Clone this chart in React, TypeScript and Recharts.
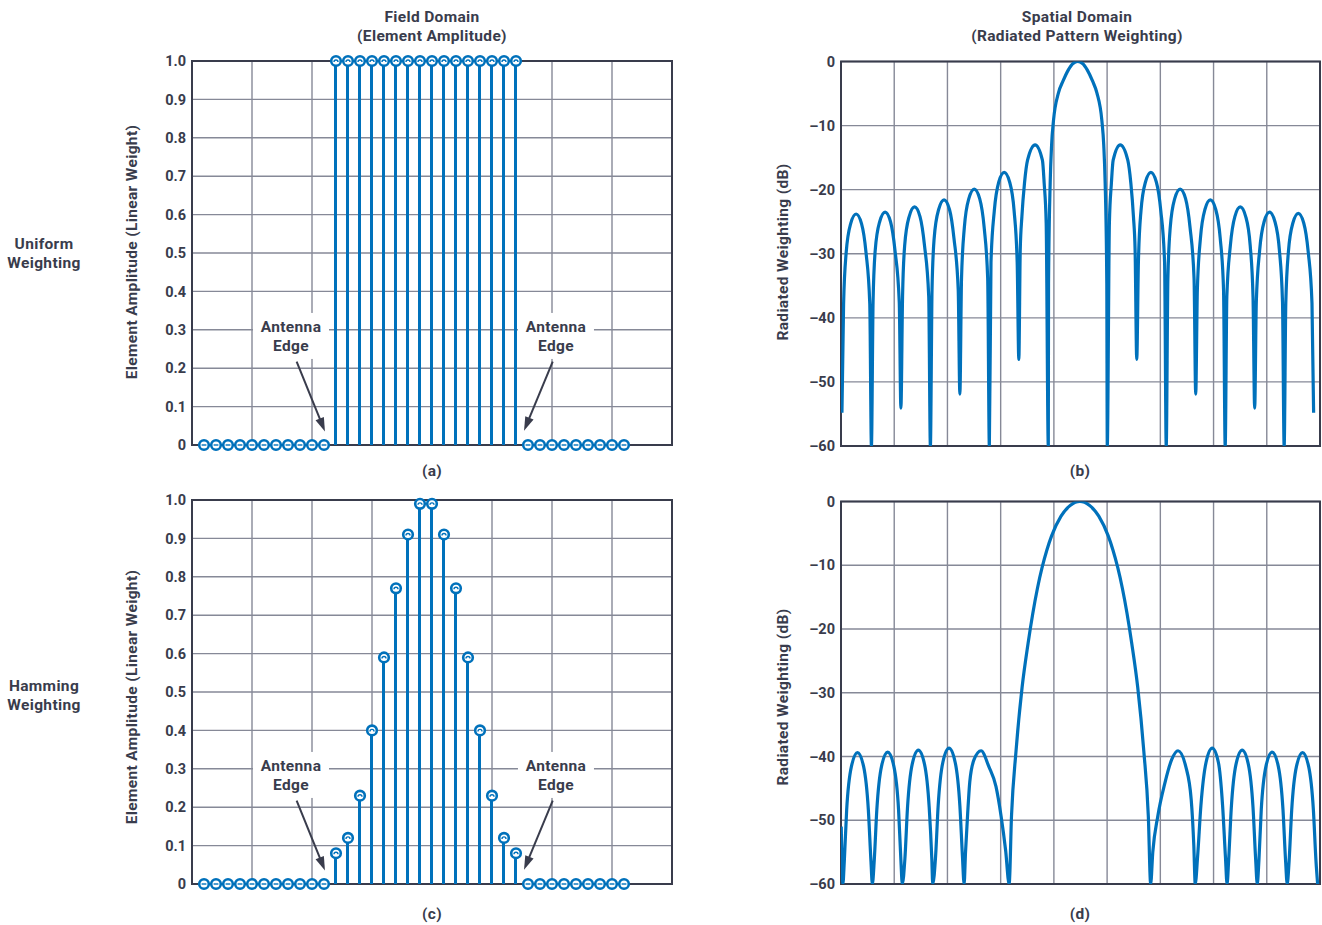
import React from 'react';
import {
  ComposedChart,
  LineChart,
  Line,
  Bar,
  Scatter,
  XAxis,
  YAxis,
  CartesianGrid,
  ReferenceArea,
  ReferenceLine,
  ReferenceDot,
} from 'recharts';

const BLUE = '#0071bb';
const INK = '#393c4c';
const GRID = '#868997';
const FONT = 'Roboto, "Open Sans", sans-serif';

// element positions across the aperture (zero padded on both sides)
const elementIndex = [
  0, 1, 2, 3, 4, 5, 6, 7, 8, 9, 10, 11, 12, 13, 14, 15, 16, 17,
  18, 19, 20, 21, 22, 23, 24, 25, 26, 27, 28, 29, 30, 31, 32, 33, 34, 35,
];

const uniformAmp = [
  0, 0, 0, 0, 0, 0, 0, 0, 0, 0, 0,
  1, 1, 1, 1, 1, 1, 1, 1, 1, 1, 1, 1, 1, 1, 1, 1,
  0, 0, 0, 0, 0, 0, 0, 0, 0,
];

const hammingAmp = [
  0, 0, 0, 0, 0, 0, 0, 0, 0, 0, 0,
  0.08, 0.12, 0.23, 0.4, 0.59, 0.77, 0.91, 0.99, 0.99, 0.91, 0.77, 0.59, 0.4, 0.23, 0.12, 0.08,
  0, 0, 0, 0, 0, 0, 0, 0, 0,
];

const ampTicks = [0, 0.1, 0.2, 0.3, 0.4, 0.5, 0.6, 0.7, 0.8, 0.9, 1];
const dbTicks = [0, -10, -20, -30, -40, -50, -60];
const elementGrid = [-1, 4, 9, 14, 19, 24, 29, 34, 39];

// radiated pattern, [sin(theta), dB]
const uniformPattern: [number, number][] = [
  [-1.0, -54.8], [-0.993, -37.8], [-0.982, -29.8], [-0.963, -25.3], [-0.94, -23.8], [-0.917, -25.3], [-0.898, -29.8], [-0.882, -37.8],
  [-0.875, -60], [-0.868, -37.5], [-0.859, -29.5], [-0.84, -25.0], [-0.817, -23.5], [-0.794, -25.0], [-0.775, -29.5], [-0.757, -37.5],
  [-0.75, -54.1], [-0.743, -36.7], [-0.734, -28.7], [-0.715, -24.2], [-0.692, -22.7], [-0.669, -24.2], [-0.65, -28.7], [-0.632, -36.7],
  [-0.625, -60], [-0.618, -35.6], [-0.609, -27.6], [-0.59, -23.1], [-0.567, -21.6], [-0.544, -23.1], [-0.525, -27.6], [-0.507, -35.6],
  [-0.5, -51.9], [-0.493, -33.9], [-0.481, -25.9], [-0.462, -21.4], [-0.439, -19.9], [-0.416, -21.4], [-0.397, -25.9], [-0.382, -33.9],
  [-0.375, -60], [-0.368, -31.3], [-0.354, -23.3], [-0.335, -18.8], [-0.312, -17.3], [-0.289, -18.8], [-0.27, -23.3], [-0.257, -31.3],
  [-0.25, -46.5], [-0.244, -29.4], [-0.237, -24.2], [-0.226, -19.0], [-0.213, -15.4], [-0.181, -13.0], [-0.15, -15.4], [-0.1425, -19.0], [-0.134, -25.2],
  [-0.125, -60], [-0.124, -34.6], [-0.117, -18.9], [-0.111, -13.0], [-0.103, -9.2], [-0.082, -4.9], [-0.062, -3.0], [-0.04, -1.3], [-0.02, -0.3], [0, 0],
  [0.02, -0.3], [0.04, -1.3], [0.062, -3.0], [0.081, -4.9], [0.102, -9.2], [0.11, -13.0], [0.116, -18.9], [0.123, -34.6],
  [0.125, -60], [0.134, -25.2], [0.1425, -19.0], [0.15, -15.4], [0.18, -13.0], [0.212, -15.4], [0.225, -19.0], [0.236, -24.2], [0.243, -29.4],
  [0.25, -46.5], [0.257, -31.3], [0.268, -23.3], [0.287, -18.8], [0.31, -17.3], [0.333, -18.8], [0.352, -23.3], [0.368, -31.3],
  [0.375, -60], [0.382, -33.9], [0.392, -25.9], [0.411, -21.4], [0.434, -19.9], [0.457, -21.4], [0.476, -25.9], [0.493, -33.9],
  [0.5, -51.9], [0.507, -35.6], [0.52, -27.6], [0.539, -23.1], [0.562, -21.6], [0.585, -23.1], [0.604, -27.6], [0.618, -35.6],
  [0.625, -60], [0.632, -36.7], [0.647, -28.7], [0.666, -24.2], [0.689, -22.7], [0.712, -24.2], [0.731, -28.7], [0.743, -36.7],
  [0.75, -54.1], [0.757, -37.5], [0.771, -29.5], [0.79, -25.0], [0.813, -23.5], [0.836, -25.0], [0.855, -29.5], [0.868, -37.5],
  [0.875, -60], [0.882, -37.7], [0.893, -29.7], [0.912, -25.2], [0.935, -23.7], [0.958, -25.2], [0.977, -29.7], [0.993, -37.7],
  [1.0, -54.8],
];

const hammingPattern: [number, number][] = [
  [-1.003, -51.0], [-0.996, -60],
  [-0.99, -56.4], [-0.98, -48.4], [-0.96, -41.6], [-0.934, -39.4], [-0.908, -41.6], [-0.888, -48.4], [-0.877, -56.4],
  [-0.871, -60], [-0.863, -56.3], [-0.852, -48.3], [-0.832, -41.5], [-0.806, -39.3], [-0.78, -41.5], [-0.76, -48.3], [-0.75, -56.3],
  [-0.744, -60], [-0.733, -56.0], [-0.722, -48.0], [-0.702, -41.2], [-0.676, -39.0], [-0.65, -41.2], [-0.63, -48.0], [-0.619, -56.0],
  [-0.615, -60], [-0.603, -55.7], [-0.592, -47.7], [-0.572, -40.9], [-0.546, -38.7], [-0.52, -40.9], [-0.5, -47.7], [-0.489, -55.7],
  [-0.482, -60], [-0.476, -55.0], [-0.467, -49.0], [-0.458, -44.0], [-0.44, -40.5], [-0.41, -39.1], [-0.377, -41.6], [-0.347, -44.7], [-0.325, -49.4], [-0.306, -54.7],
  [-0.291, -60], [-0.281, -49.3], [-0.262, -39.2], [-0.236, -29.1], [-0.211, -22.3], [-0.191, -17.6], [-0.171, -13.6], [-0.151, -10.3],
  [-0.131, -7.6], [-0.111, -5.4], [-0.071, -2.3], [-0.031, -0.6], [0.009, 0],
  [0.049, -0.6], [0.089, -2.3], [0.129, -5.4], [0.149, -7.6], [0.169, -10.3], [0.189, -13.6], [0.209, -17.6], [0.229, -22.3],
  [0.254, -29.1], [0.28, -39.2], [0.299, -49.3],
  [0.309, -60], [0.318, -55.0], [0.339, -49.4], [0.369, -44.2], [0.398, -40.5], [0.425, -39.1], [0.458, -41.6], [0.481, -46.8], [0.492, -54.0],
  [0.498, -60], [0.508, -55.7], [0.522, -47.7], [0.544, -40.9], [0.57, -38.7], [0.596, -40.9], [0.614, -47.7], [0.626, -55.7],
  [0.633, -60], [0.64, -56.0], [0.651, -48.0], [0.671, -41.2], [0.697, -39.0], [0.723, -41.2], [0.743, -48.0], [0.754, -56.0],
  [0.761, -60], [0.768, -56.3], [0.778, -48.3], [0.798, -41.5], [0.824, -39.3], [0.85, -41.5], [0.87, -48.3], [0.881, -56.3],
  [0.888, -60], [0.896, -56.4], [0.907, -48.4], [0.927, -41.6], [0.953, -39.4], [0.979, -41.6], [0.999, -48.4], [1.01, -56.4],
  [1.017, -60],
];

const patternDomain = [-1.004, 1.027];
// 9 equal grid divisions across the pattern frame
const patternGrid = [0, 1, 2, 3, 4, 5, 6, 7, 8, 9].map(
  (k) => patternDomain[0] + (k * (patternDomain[1] - patternDomain[0])) / 9
);

// "Antenna Edge" callouts: label centre and arrow (from -> tip), in element/amplitude units
const edgeLabels = [
  { x: 7.25, y: 0.284 },
  { x: 29.33, y: 0.284 },
];
const edgeArrows = [
  { x1: 7.72, y1: 0.217, x2: 10.08, y2: 0.035 },
  { x1: 29.06, y1: 0.217, x2: 26.67, y2: 0.037 },
];

const tickStyle = { fill: INK, fontSize: 14.5, fontWeight: 700 };
const noLabel = () => '';

const renderStemHead = (props: any) => {
  const { cx, cy, payload } = props;
  const zero = payload.amp === 0;
  return (
    <g>
      <circle cx={cx} cy={cy} r={4.8} fill="#fff" stroke={BLUE} strokeWidth={2.6} />
      {zero ? (
        <line x1={cx - 2.4} y1={cy} x2={cx + 2.4} y2={cy} stroke={BLUE} strokeWidth={1.4} />
      ) : (
        <path d={`M${cx - 2} ${cy + 1} A2 2 0 0 1 ${cx + 2} ${cy + 1}`} fill="none" stroke={BLUE} strokeWidth={1.4} />
      )}
    </g>
  );
};

const renderArrow = (props: any) => {
  const { x1, y1, x2, y2 } = props;
  const dx = x2 - x1;
  const dy = y2 - y1;
  const len = Math.hypot(dx, dy) || 1;
  const ux = dx / len;
  const uy = dy / len;
  const head = 14;
  const half = 4.5;
  const bx = x2 - ux * head;
  const by = y2 - uy * head;
  return (
    <g>
      <line x1={x1} y1={y1} x2={bx + ux * 2} y2={by + uy * 2} stroke={INK} strokeWidth={2} />
      <polygon
        points={`${x2},${y2} ${bx - uy * half},${by + ux * half} ${bx + uy * half},${by - ux * half}`}
        fill={INK}
      />
    </g>
  );
};

const labelText = { textAnchor: 'middle' as const, dominantBaseline: 'central' as const, fontSize: 15.5, fontWeight: 700, fill: INK, letterSpacing: 0.35 };

const renderEdgeLabel = (props: any) => {
  const { cx, cy } = props;
  return (
    <g>
      <rect x={cx - 38} y={cy - 23} width={76} height={46} fill="#fff" />
      <text x={cx} y={cy - 9} {...labelText}>
        Antenna
      </text>
      <text x={cx} y={cy + 10} {...labelText}>
        Edge
      </text>
    </g>
  );
};

function ElementChart({ amps, top, height, margin }: { amps: number[]; top: number; height: number; margin: any }) {
  const rows = elementIndex.map((idx, i) => ({ idx, amp: amps[i] }));
  return (
    <div style={{ position: 'absolute', left: 0, top }}>
      <ComposedChart width={700} height={height} data={rows} margin={margin}>
        <CartesianGrid stroke={GRID} strokeWidth={1.4} />
        <XAxis
          type="number"
          dataKey="idx"
          domain={[-1, 39]}
          ticks={elementGrid}
          tickFormatter={noLabel}
          axisLine={false}
          tickLine={false}
          height={1}
        />
        <YAxis
          type="number"
          domain={[0, 1]}
          ticks={ampTicks}
          width={50}
          tick={tickStyle}
          tickLine={false}
          axisLine={false}
          tickSize={4}
          tickMargin={2}
          tickFormatter={(v: number) => (v === 0 ? '0' : v.toFixed(1))}
        />
        <ReferenceArea x1={-1} x2={39} y1={0} y2={1} fill="none" fillOpacity={0} stroke={INK} strokeWidth={2} />
        {edgeLabels.map((p, i) => (
          <ReferenceDot key={`lbl-${i}`} x={p.x} y={p.y} r={1} shape={renderEdgeLabel} />
        ))}
        {edgeArrows.map((a, i) => (
          <ReferenceLine
            key={`arr-${i}`}
            segment={[
              { x: a.x1, y: a.y1 },
              { x: a.x2, y: a.y2 },
            ]}
            shape={renderArrow}
          />
        ))}
        <Bar dataKey="amp" barSize={3} fill={BLUE} isAnimationActive={false} />
        <Scatter dataKey="amp" shape={renderStemHead} isAnimationActive={false} />
      </ComposedChart>
    </div>
  );
}

function PatternChart({ points, top, height, margin }: { points: [number, number][]; top: number; height: number; margin: any }) {
  const rows = points.map(([u, db]) => ({ u, db }));
  return (
    <div style={{ position: 'absolute', left: 700, top }}>
      <LineChart width={622} height={height} data={rows} margin={margin}>
        <CartesianGrid stroke={GRID} strokeWidth={1.4} />
        <XAxis
          type="number"
          dataKey="u"
          domain={patternDomain}
          allowDataOverflow
          ticks={patternGrid}
          tickFormatter={noLabel}
          axisLine={false}
          tickLine={false}
          height={1}
        />
        <YAxis
          type="number"
          domain={[-60, 0]}
          allowDataOverflow
          ticks={dbTicks}
          width={50}
          tick={tickStyle}
          tickLine={false}
          axisLine={false}
          tickSize={4}
          tickMargin={2}
          tickFormatter={(v: number) => (v === 0 ? '0' : `–${Math.abs(v)}`)}
        />
        <ReferenceArea
          x1={patternDomain[0]}
          x2={patternDomain[1]}
          y1={-60}
          y2={0}
          fill="none"
          fillOpacity={0}
          stroke={INK}
          strokeWidth={2}
        />
        <Line type="monotone" dataKey="db" stroke={BLUE} strokeWidth={3.2} dot={false} isAnimationActive={false} />
      </LineChart>
    </div>
  );
}

function Text({ x, y, lines, rotate }: { x: number; y: number; lines: string[]; rotate?: boolean }) {
  return (
    <div
      style={{
        position: 'absolute',
        left: x,
        top: y,
        transform: `translate(-50%, -50%)${rotate ? ' rotate(-90deg)' : ''}`,
        whiteSpace: 'nowrap',
        textAlign: 'center',
        fontSize: 15.5,
        fontWeight: 700,
        letterSpacing: 0.35,
        lineHeight: '19px',
        color: INK,
      }}
    >
      {lines.map((l, i) => (
        <div key={i}>{l}</div>
      ))}
    </div>
  );
}

export default function App() {
  return (
    <div
      style={{
        position: 'absolute',
        left: 0,
        top: 0,
        width: 1322,
        height: 925,
        background: '#fff',
        fontFamily: FONT,
        overflow: 'hidden',
      }}
    >
      <ElementChart amps={uniformAmp} top={0} height={470} margin={{ top: 61, right: 28, bottom: 24, left: 142 }} />
      <ElementChart amps={hammingAmp} top={470} height={440} margin={{ top: 30, right: 28, bottom: 25, left: 142 }} />
      <PatternChart points={uniformPattern} top={0} height={470} margin={{ top: 61.5, right: 2, bottom: 23, left: 91 }} />
      <PatternChart points={hammingPattern} top={470} height={440} margin={{ top: 31.5, right: 2, bottom: 25, left: 91 }} />

      <Text x={432} y={27} lines={['Field Domain', '(Element Amplitude)']} />
      <Text x={1077} y={27} lines={['Spatial Domain', '(Radiated Pattern Weighting)']} />
      <Text x={44} y={254} lines={['Uniform', 'Weighting']} />
      <Text x={44} y={696} lines={['Hamming', 'Weighting']} />
      <Text x={132} y={252} lines={['Element Amplitude (Linear Weight)']} rotate />
      <Text x={132} y={697} lines={['Element Amplitude (Linear Weight)']} rotate />
      <Text x={783} y={252} lines={['Radiated Weighting (dB)']} rotate />
      <Text x={783} y={697} lines={['Radiated Weighting (dB)']} rotate />
      <Text x={432} y={471} lines={['(a)']} />
      <Text x={1080} y={471} lines={['(b)']} />
      <Text x={432} y={914} lines={['(c)']} />
      <Text x={1080} y={914} lines={['(d)']} />
    </div>
  );
}
